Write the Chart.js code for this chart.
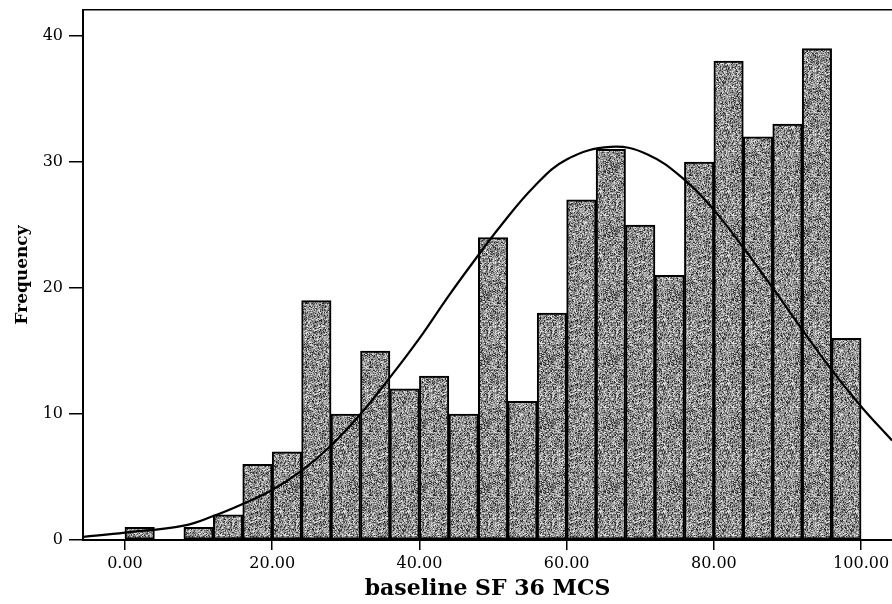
<!DOCTYPE html>
<html>
<head>
<meta charset="utf-8">
<script src="https://cdn.jsdelivr.net/npm/chart.js@4/dist/chart.umd.min.js"></script>
<style>
  html, body { margin: 0; padding: 0; background: #fff; }
  #wrap { width: 892px; height: 604px; }
</style>
</head>
<body>
<div id="wrap"><canvas id="hist" width="892" height="604"></canvas></div>
<script>
// histogram bins (width 4) of baseline SF 36 MCS
const binCenters = [2, 6, 10, 14, 18, 22, 26, 30, 34, 38, 42, 46, 50, 54, 58, 62, 66, 70, 74, 78, 82, 86, 90, 94, 98]
const frequencies = [1, 0, 1, 2, 6, 7, 19, 10, 15, 12, 13, 10, 24, 11, 18, 27, 31, 25, 21, 30, 38, 32, 33, 39, 16]

// fitted normal curve
const curveX = [-5.7, 0, 8, 12, 16, 20, 24, 28, 32, 36, 40, 44, 48, 51, 55.5, 60, 66, 71, 76, 80, 84, 88, 92, 96, 100, 104.2]
const curveY = [0.24, 0.58, 1.14, 1.9, 2.86, 3.97, 5.5, 7.5, 10.0, 12.9, 16.0, 19.4, 22.6, 24.9, 28.0, 30.2, 31.2, 30.6, 28.6, 26.2, 23.2, 20.0, 16.7, 13.5, 10.6, 7.9]

const xTicks = [0, 20, 40, 60, 80, 100]
const yTicks = [0, 10, 20, 30, 40]

const X_MIN = -5.7
const X_MAX = 104.2
const Y_MAX = 42.06

const serif = "'DejaVu Serif', 'Liberation Serif', serif"

const fixTicks = (values) => (scale) => {
  scale.ticks = values.map(v => ({ value: v }))
}

// speckled grey fill, like the scanned bars (fixed hash, no randomness)
const makeSpeckle = () => {
  const size = 64
  const c = document.createElement('canvas')
  c.width = size
  c.height = size
  const g = c.getContext('2d')
  const img = g.createImageData(size, size)
  const shades = [40, 80, 110, 130, 145, 160, 175, 195, 225]
  for (let y = 0; y < size; y++) {
    for (let x = 0; x < size; x++) {
      let h = Math.imul(x, 374761393) + Math.imul(y, 668265263)
      h = Math.imul(h ^ (h >>> 13), 1274126177)
      h = (h ^ (h >>> 16)) >>> 0
      const s = shades[h % shades.length]
      const k = (y * size + x) * 4
      img.data[k] = s
      img.data[k + 1] = s
      img.data[k + 2] = s
      img.data[k + 3] = 255
    }
  }
  g.putImageData(img, 0, 0)
  return g.createPattern(c, 'repeat')
}

new Chart(document.getElementById('hist'), {
  type: 'bar',
  data: {
    datasets: [
      {
        type: 'line',
        data: curveX.map((x, i) => ({ x, y: curveY[i] })),
        borderColor: '#000',
        borderWidth: 2.2,
        pointRadius: 0,
        tension: 0.4,
        fill: false,
        order: 0,
      },
      {
        type: 'bar',
        data: binCenters.map((x, i) => ({ x, y: frequencies[i] })),
        backgroundColor: makeSpeckle(),
        borderColor: '#000',
        borderWidth: 2,
        borderSkipped: false,
        barPercentage: 1,
        categoryPercentage: 1,
        order: 1,
      },
    ],
  },
  options: {
    responsive: false,
    animation: false,
    devicePixelRatio: 1,
    layout: { padding: 0 },
    plugins: { legend: { display: false }, tooltip: { enabled: false } },
    scales: {
      x: {
        type: 'linear',
        position: 'bottom',
        min: X_MIN,
        max: X_MAX,
        offset: false,
        afterBuildTicks: fixTicks(xTicks),
        afterFit: (s) => { s.height = 64; s.paddingLeft = 0; s.paddingRight = 0 },
        ticks: {
          color: '#000',
          font: { family: serif, size: 16 },
          padding: 4,
          maxRotation: 0,
          autoSkip: false,
          callback: (v) => Number(v).toFixed(2),
        },
        grid: { drawOnChartArea: false, drawTicks: true, tickLength: 10, color: '#000', lineWidth: 1.5, offset: false },
        border: { display: true, color: '#000', width: 2 },
        title: {
          display: true,
          text: 'baseline SF 36 MCS',
          color: '#000',
          font: { family: serif, size: 22, weight: 'bold' },
          padding: { top: 0, bottom: 2 },
        },
      },
      xTop: {
        type: 'linear',
        position: 'top',
        min: X_MIN,
        max: X_MAX,
        afterFit: (s) => { s.height = 10; s.paddingLeft = 0; s.paddingRight = 0 },
        ticks: { display: false },
        grid: { display: false, drawTicks: false },
        border: { display: true, color: '#000', width: 1.5 },
      },
      y: {
        type: 'linear',
        min: 0,
        max: Y_MAX,
        afterBuildTicks: fixTicks(yTicks),
        afterFit: (s) => { s.width = 83; s.paddingTop = 0; s.paddingBottom = 0 },
        ticks: {
          color: '#000',
          font: { family: serif, size: 16 },
          padding: 6,
        },
        grid: { drawOnChartArea: false, drawTicks: true, tickLength: 14, color: '#000', lineWidth: 1.5 },
        border: { display: true, color: '#000', width: 2 },
        title: {
          display: true,
          text: 'Frequency',
          color: '#000',
          font: { family: serif, size: 17, weight: 'bold' },
          padding: { top: 12, bottom: 0 },
        },
      },
    },
  },
})
</script>
</body>
</html>
